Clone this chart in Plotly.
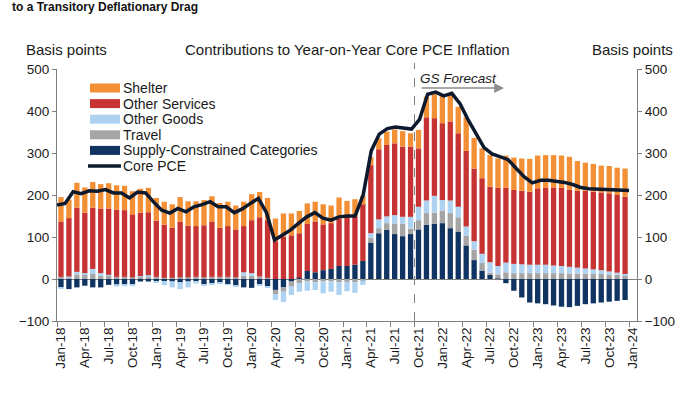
import plotly.graph_objects as go

# ---------------- data ----------------
months = [f"{m}-{y}" for y in ["18", "19", "20", "21", "22", "23"]
          for m in ["Jan", "Feb", "Mar", "Apr", "May", "Jun",
                    "Jul", "Aug", "Sep", "Oct", "Nov", "Dec"]]
axis_categories = months + ["Jan-24"]

supply = [-20, -24, -20, -16, -20, -20, -14, -13, -13, -13, -6, -6,
          -6, -5, -6, -8, -6, -5, -13, -10, -9, -13, -16, -20,
          -21, -14, -18, -26, -20, -6, 3, 19, 16, 21, 24, 31,
          31, 34, 43, 87, 109, 117, 107, 102, 107, 118, 129, 131,
          133, 121, 113, 80, 45, 20, 10, 1, -10, -28, -44, -56,
          -58, -60, -63, -66, -67, -64, -60, -58, -56, -54, -52, -50]
travel = [5, 4, 11, 10, 12, 8, 8, 5, 5, 4, 5, 7,
          5, 3, 3, 4, 4, 5, 4, 5, 5, 5, 4, 8,
          8, 6, 3, -10, -10, -12, -10, -6, -8, -6, -6, -8,
          -7, -8, -4, 11, 12, 16, 25, 30, 13, 22, 28, 27,
          30, 36, 34, 23, 25, 18, 5, 10, 16, 14, 14, 14,
          14, 14, 14, 14, 13, 13, 13, 12, 12, 11, 10, 9]
other_goods = [-3, 2, 6, 4, 12, 6, 2, -5, -4, -4, 2, 2,
               -2, -10, -14, -16, -14, -6, -2, -2, -1, -1, -1, 8,
               6, -2, -3, -14, -25, -20, -20, -22, -18, -28, -24, -30,
               -22, -25, -10, 11, 21, 16, 20, 16, 28, 32, 30, 40,
               25, 30, 25, 22, 20, 22, 25, 20, 23, 22, 21, 20,
               20, 20, 18, 17, 16, 14, 12, 11, 9, 7, 5, 3]
other_services = [132, 139, 153, 144, 146, 154, 158, 160, 159, 150, 151, 150,
                  134, 126, 119, 132, 123, 121, 124, 132, 117, 121, 114, 110,
                  126, 141, 137, 90, 101, 104, 106, 112, 121, 109, 109, 113,
                  117, 114, 135, 162, 167, 170, 171, 167, 167, 139, 198, 185,
                  183, 188, 175, 180, 173, 180, 180, 186, 178, 176, 175, 174,
                  182, 184, 186, 186, 184, 183, 185, 185, 185, 186, 185, 184]
shelter = [58, 44, 59, 60, 61, 58, 60, 58, 58, 55, 57, 58,
           54, 55, 56, 59, 58, 59, 60, 60, 59, 58, 57, 58,
           62, 60, 53, 54, 55, 52, 53, 49, 47, 48, 42, 50,
           38, 42, 20, 19, 26, 32, 33, 37, 32, 44, 49, 57,
           65, 63, 63, 80, 73, 71, 75, 70, 77, 77, 77, 78,
           78, 77, 77, 77, 78, 71, 67, 66, 64, 65, 65, 67]
core_pce = [176, 180, 208, 203, 210, 209, 213, 205, 205, 193, 207, 205,
            183, 164, 157, 168, 160, 172, 177, 184, 172, 172, 158, 167,
            180, 192, 158, 93, 105, 117, 133, 148, 158, 145, 140, 148,
            150, 150, 200, 305, 345, 358, 362, 360, 357, 380, 440, 445,
            436, 442, 418, 380, 345, 313, 298, 290, 284, 263, 243, 229,
            235, 235, 233, 230, 225, 218, 215, 214, 213, 212, 210, 211]

y_ticks = [-100, 0, 100, 200, 300, 400, 500]
forecast_start = "Oct-21"

# ---------------- styling ----------------
C_SHELTER = "#F39035"
C_SERV = "#C73332"
C_GOODS = "#AED3F2"
C_TRAVEL = "#A5A5A5"
C_SUPPLY = "#0F3462"
C_LINE = "#0D1A2D"
AXIS = "#7F7F7F"
FONT = "Liberation Sans, Arial, sans-serif"

W, H = 700, 394
L, R, T, B = 57, 63, 69, 73
PW, PH = W - L - R, H - T - B


def px(x):
    return (x - L) / PW


def py(y):
    return (H - B - y) / PH


fig = go.Figure()
bar_series = [("Supply-Constrained Categories", supply, C_SUPPLY),
              ("Travel", travel, C_TRAVEL),
              ("Other Goods", other_goods, C_GOODS),
              ("Other Services", other_services, C_SERV),
              ("Shelter", shelter, C_SHELTER)]
for name, vals, col in bar_series:
    fig.add_trace(go.Bar(x=months, y=vals, name=name, marker_color=col,
                         marker_line_width=0, showlegend=False))

# line drawn on an overlaid numeric axis (first point on the left edge,
# last point on the Jan-24 tick, as in the source)
n = len(core_pce)
span = len(months)
line_x = [-0.5 + i * span / (n - 1) for i in range(n)]
fig.add_trace(go.Scatter(x=line_x, y=core_pce, mode="lines", name="Core PCE",
                         line=dict(color=C_LINE, width=3.5),
                         xaxis="x2", yaxis="y2", showlegend=False))

ncat = len(axis_categories)
fig.update_layout(
    width=W, height=H,
    margin=dict(l=L, r=R, t=T, b=B),
    paper_bgcolor="white", plot_bgcolor="white",
    barmode="relative", bargap=0.33,
    font=dict(family=FONT, size=13.5, color="#1a1a1a"),
    xaxis=dict(type="category", categoryorder="array",
               categoryarray=axis_categories, range=[-0.5, ncat - 0.5],
               tickmode="linear", tick0=0, dtick=3, tickson="boundaries",
               ticks="outside", ticklen=5, tickcolor=AXIS, tickwidth=1,
               tickangle=-90, showline=True, linecolor=AXIS, linewidth=1,
               showgrid=False, zeroline=False,
               tickfont=dict(size=13.5, family=FONT, color="#1a1a1a")),
    xaxis2=dict(overlaying="x", range=[-0.5, ncat - 0.5], visible=False,
                anchor="y2"),
    yaxis=dict(range=[y_ticks[0], y_ticks[-1]], tickvals=y_ticks,
               ticks="outside", ticklen=4, tickcolor=AXIS,
               showline=True, linecolor=AXIS, linewidth=1,
               showgrid=False, zeroline=True, zerolinecolor=AXIS,
               zerolinewidth=1, tickfont=dict(size=13.5)),
    yaxis2=dict(overlaying="y", side="right", anchor="x",
                range=[y_ticks[0], y_ticks[-1]], tickvals=y_ticks,
                ticks="outside", ticklen=4, tickcolor=AXIS,
                showline=True, linecolor=AXIS, linewidth=1,
                showgrid=False, zeroline=False, tickfont=dict(size=13.5)),
)

# forecast divider
fidx = axis_categories.index(forecast_start) - 0.5
fig.add_shape(type="line", xref="x2", yref="paper", x0=fidx, x1=fidx,
              y0=0, y1=py(63), line=dict(color=AXIS, width=1, dash="dash"))

ann = []
# top subtitle (cut in the source image)
ann.append(dict(text="<b>to a Transitory Deflationary Drag</b>", xref="paper",
                yref="paper", x=px(10), y=py(6.5), xanchor="left",
                yanchor="middle", showarrow=False,
                font=dict(size=12, family=FONT, color="#111")))
ann.append(dict(text="Basis points", xref="paper", yref="paper", x=px(66),
                y=py(49), xanchor="center", yanchor="middle",
                showarrow=False, font=dict(size=15)))
ann.append(dict(text="Basis points", xref="paper", yref="paper", x=px(632),
                y=py(49), xanchor="center", yanchor="middle",
                showarrow=False, font=dict(size=15)))
ann.append(dict(text="Contributions to Year-on-Year Core PCE Inflation",
                xref="paper", yref="paper", x=px(348), y=py(49),
                xanchor="center", yanchor="middle", showarrow=False,
                font=dict(size=15)))
# GS forecast label and arrow
ann.append(dict(text="<i>GS Forecast</i>", xref="paper", yref="paper",
                x=px(418), y=py(78), xanchor="left", yanchor="middle",
                showarrow=False, font=dict(size=13.5)))
ann.append(dict(text="", xref="paper", yref="paper", x=px(504), y=py(88),
                ax=-84, ay=0, showarrow=True, arrowhead=2, arrowsize=1.3,
                arrowwidth=1.5, arrowcolor="#8C8C8C"))

# custom legend
legend_items = [("Shelter", C_SHELTER, "bar"),
                ("Other Services", C_SERV, "bar"),
                ("Other Goods", C_GOODS, "bar"),
                ("Travel", C_TRAVEL, "bar"),
                ("Supply-Constrained Categories", C_SUPPLY, "bar"),
                ("Core PCE", C_LINE, "line")]
y0 = 88
step = 15.6
for k, (label, col, kind) in enumerate(legend_items):
    yc = y0 + k * step
    if kind == "bar":
        fig.add_shape(type="rect", xref="paper", yref="paper",
                      x0=px(90), x1=px(120), y0=py(yc + 4.5), y1=py(yc - 4.5),
                      fillcolor=col, line_width=0)
    else:
        fig.add_shape(type="line", xref="paper", yref="paper",
                      x0=px(88), x1=px(121), y0=py(yc), y1=py(yc),
                      line=dict(color=col, width=3.5))
    ann.append(dict(text=label, xref="paper", yref="paper", x=px(122),
                    y=py(yc), xanchor="left", yanchor="middle",
                    showarrow=False, borderpad=0, font=dict(size=14)))

fig.update_layout(annotations=ann)
fig.write_html("out.html",
               config={"displayModeBar": False},
               post_script="document.body.style.margin='0px';")
